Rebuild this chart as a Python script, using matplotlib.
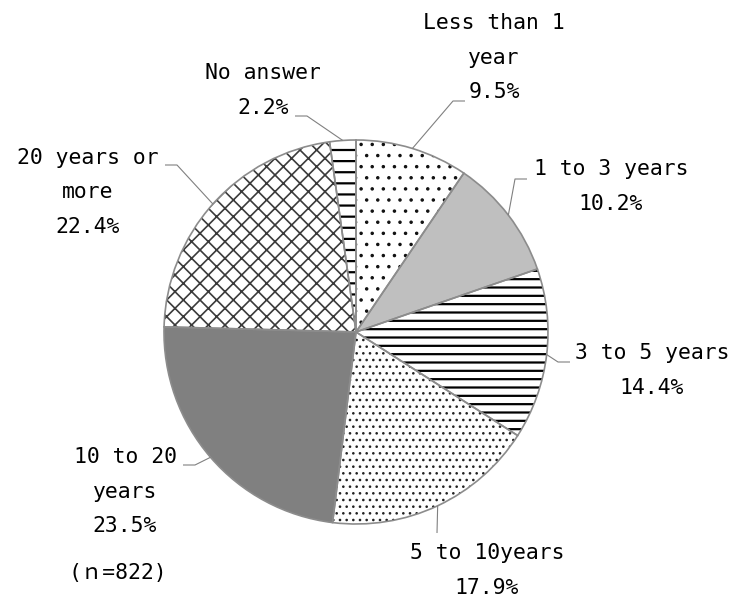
import numpy as np
import matplotlib
matplotlib.use("Agg")
import matplotlib.pyplot as plt

# ---- data ----
categories = ["Less than 1\nyear", "1 to 3 years", "3 to 5 years", "5 to 10years",
              "10 to 20\nyears", "20 years or\nmore", "No answer"]
values = [9.5, 10.2, 14.4, 17.9, 23.5, 22.4, 2.2]
note = "(\uff4e=822)"

# ---- styles ----
faces = ["white", "#BFBFBF", "white", "white", "#808080", "white", "white"]
hatches = ["...", "", "----", ".....", "", "xxxx", "---"]
hatch_cols = ["#111111", "#BFBFBF", "black", "#222222", "#808080", "#3A3A3A", "black"]
hatch_lws = [0.45, 0.5, 0.8, 0.45, 0.5, 0.6, 0.8]

W, H = 734, 599
DPI = 200
plt.rcParams["hatch.linewidth"] = 0.6
plt.rcParams["font.family"] = ["DejaVu Sans Mono", "Noto Sans CJK JP"]

fig = plt.figure(figsize=(W / DPI, H / DPI), dpi=DPI)
ax = fig.add_axes([0, 0, 1, 1])

cx, cy_px, R = 356, 332, 192
cy = H - cy_px

wedges, _ = ax.pie(values, startangle=90, counterclock=False, center=(cx, cy),
                   radius=R, colors=faces, hatch=hatches,
                   wedgeprops=dict(linewidth=0))
for w, hc, hl in zip(wedges, hatch_cols, hatch_lws):
    w.set_edgecolor(hc)
    w.set_linewidth(0)
    if hasattr(w, "set_hatch_linewidth"):
        try:
            w.set_hatch_linewidth(hl)
        except Exception:
            pass

ax.pie(values, startangle=90, counterclock=False, center=(cx, cy), radius=R,
       wedgeprops=dict(fill=False, edgecolor="#8C8C8C", linewidth=0.6))

ax.set_xlim(0, W)
ax.set_ylim(0, H)
ax.set_aspect("equal")
ax.axis("off")

# label layout (pixel positions): text center x, first line y, elbow, end
layout = [
    (494, 23, (453, 101), (465, 101)),
    (611, 169, (515, 179), (527, 179)),
    (652, 353, (558, 362), (570, 362)),
    (487, 553, (437, 533), None),
    (125, 457, (195, 465), (183, 465)),
    (88, 158, (177, 165), (165, 165)),
    (263, 73, (307, 116), (295, 116)),
]
line_h = 34.5
fs = 21.4 * 72 / DPI
lead_col = "#808080"
lead_lw = 0.4

for w, cat, val, (tx, ty, elbow, end) in zip(wedges, categories, values, layout):
    mid = np.deg2rad((w.theta1 + w.theta2) / 2)
    ex, ey = cx + R * np.cos(mid), cy + R * np.sin(mid)
    xs = [ex, elbow[0]]
    ys = [ey, H - elbow[1]]
    if end is not None:
        xs.append(end[0])
        ys.append(H - end[1])
    ax.plot(xs, ys, color=lead_col, lw=lead_lw, solid_capstyle="butt")
    lines = cat.split("\n") + [f"{val:.1f}%"]
    for i, ln in enumerate(lines):
        ax.text(tx, H - (ty + i * line_h), ln, ha="center", va="center",
                fontsize=fs, color="black")

ax.text(118, H - 573, note, ha="center", va="center", fontsize=fs, color="black")

fig.savefig("out.png", dpi=DPI)
